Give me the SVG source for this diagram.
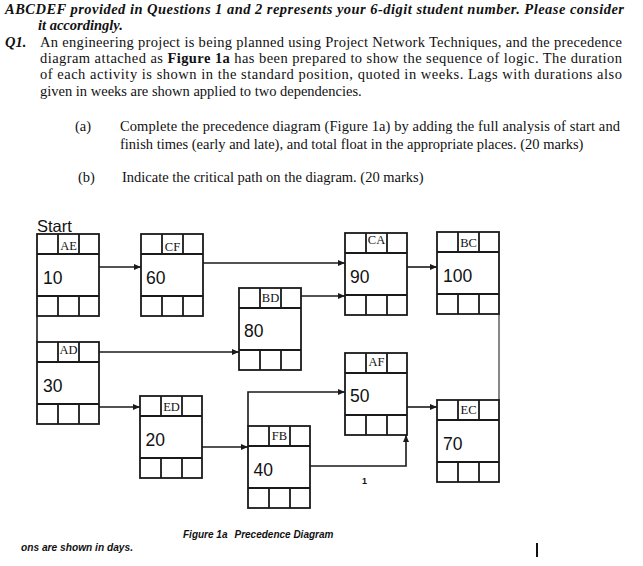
<svg xmlns="http://www.w3.org/2000/svg" width="643" height="566" viewBox="0 0 643 566">
<style>
.t{font-family:"Liberation Serif","Times New Roman",serif;font-size:14.5px;fill:#111}
.bi{font-weight:bold;font-style:italic}
.b{font-weight:bold}
.num{font-family:"Liberation Sans",Arial,sans-serif;font-size:17.5px;fill:#111}
.lab{font-family:"Liberation Serif","Times New Roman",serif;font-size:12.5px;fill:#111;text-anchor:middle}
.cap{font-family:"Liberation Sans",Arial,sans-serif;font-size:10px;font-weight:bold;font-style:italic;fill:#111}
.box{fill:#fff;stroke:#1a1a1a;stroke-width:1.8}
.cell{stroke:#1a1a1a;stroke-width:1.8;fill:none}
.con{stroke:#1a1a1a;stroke-width:1.6;fill:none}
</style>
<defs>
<marker id="ah" markerUnits="userSpaceOnUse" markerWidth="7" markerHeight="6" refX="7" refY="3" orient="auto">
<path d="M0,0 L7,3 L0,6 z" fill="#1a1a1a"/>
</marker>
<g id="nd">
<rect class="box" x="0" y="0" width="62" height="82"/>
<path class="cell" d="M0,20 H62 M0,62 H62 M21,0 V20 M42,0 V20 M21,62 V82 M42,62 V82"/>
</g>
</defs>
<rect width="643" height="566" fill="#fff"/>

<g id="text">
<text class="t bi" x="5" y="14" textLength="619" lengthAdjust="spacing">ABCDEF provided in Questions 1 and 2 represents your 6-digit student number. Please consider</text>
<text class="t bi" x="38" y="30">it accordingly.</text>
<text class="t bi" x="5" y="47">Q1.</text>
<text class="t" x="40" y="47" textLength="582" lengthAdjust="spacing">An engineering project is being planned using Project Network Techniques, and the precedence</text>
<text class="t" x="40" y="63" textLength="582" lengthAdjust="spacing">diagram attached as <tspan class="b">Figure 1a</tspan> has been prepared to show the sequence of logic.  The duration</text>
<text class="t" x="40" y="79" textLength="582" lengthAdjust="spacing">of each activity is shown in the standard position, quoted in weeks.  Lags with durations also</text>
<text class="t" x="40" y="96">given in weeks are shown applied to two dependencies.</text>
<text class="t" x="75" y="131">(a)</text>
<text class="t" x="120" y="131" textLength="500" lengthAdjust="spacing">Complete the precedence diagram (Figure 1a) by adding the full analysis of start and</text>
<text class="t" x="120" y="149">finish times (early and late), and total float in the appropriate places. (20 marks)</text>
<text class="t" x="78" y="182">(b)</text>
<text class="t" x="122" y="182">Indicate the critical path on the diagram. (20 marks)</text>
<text x="37" y="232" font-family="Liberation Sans, Arial, sans-serif" font-size="16.5" fill="#111">Start</text>
<text class="cap" x="183" y="538" font-size="10.3">Figure 1a<tspan dx="7">Precedence Diagram</tspan></text>
<text class="cap" x="21" y="551" textLength="112" lengthAdjust="spacingAndGlyphs">ons are shown in days.</text>
<text x="362" y="484" font-family="Liberation Sans, Arial, sans-serif" font-size="9" font-weight="bold" fill="#111">1</text>
<line x1="537" y1="543" x2="537" y2="557" stroke="#111" stroke-width="2"/>
</g>

<g id="connectors">
<line class="con" x1="37" y1="316" x2="37" y2="342"/>
<line class="con" x1="99" y1="267" x2="141" y2="267" marker-end="url(#ah)"/>
<line class="con" x1="202" y1="263" x2="345" y2="263" marker-end="url(#ah)"/>
<line class="con" x1="407" y1="267" x2="437" y2="267" marker-end="url(#ah)"/>
<line class="con" x1="301" y1="296" x2="345" y2="296" marker-end="url(#ah)"/>
<line class="con" x1="99" y1="352" x2="239" y2="352" marker-end="url(#ah)"/>
<line class="con" x1="99" y1="407" x2="140" y2="407" marker-end="url(#ah)"/>
<line class="con" x1="202" y1="447" x2="248" y2="447" marker-end="url(#ah)"/>
<polyline class="con" points="248,426 248,392 345,392" marker-end="url(#ah)"/>
<polyline class="con" points="310,466 406,466 406,435" marker-end="url(#ah)"/>
<line class="con" x1="407" y1="407" x2="437" y2="407" marker-end="url(#ah)"/>
<line x1="499" y1="314" x2="499" y2="400" stroke="#6a6a6a" stroke-width="1.6"/>
</g>

<g id="AE"><use href="#nd" x="37" y="234"/><text class="lab" x="68.5" y="250">AE</text><text class="num" x="43" y="284">10</text></g>
<g id="CF"><use href="#nd" x="141" y="234"/><text class="lab" x="172.5" y="251" font-size="13.5">CF</text><text class="num" x="146" y="284">60</text></g>
<g id="CA"><use href="#nd" x="345" y="233"/><text class="lab" x="376.5" y="244" font-size="11.5">CA</text><text class="num" x="350" y="283">90</text></g>
<g id="BC"><use href="#nd" x="437" y="232"/><text class="lab" x="468.5" y="247">BC</text><text class="num" x="443" y="282">100</text></g>
<g id="BD"><use href="#nd" x="239" y="288"/><text class="lab" x="270.5" y="302">BD</text><text class="num" x="244" y="337">80</text></g>
<g id="AD"><use href="#nd" x="37" y="342"/><text class="lab" x="68.5" y="354">AD</text><text class="num" x="43" y="392">30</text></g>
<g id="ED"><use href="#nd" x="140" y="396"/><text class="lab" x="171.5" y="411">ED</text><text class="num" x="145.5" y="446">20</text></g>
<g id="FB"><use href="#nd" x="248" y="426"/><text class="lab" x="279.5" y="440" font-size="11.5">FB</text><text class="num" x="253.5" y="476">40</text></g>
<g id="AF"><use href="#nd" x="345" y="353"/><text class="lab" x="376.5" y="366" font-size="11.5">AF</text><text class="num" x="350" y="402">50</text></g>
<g id="EC"><use href="#nd" x="437" y="400"/><text class="lab" x="468.5" y="414">EC</text><text class="num" x="443" y="450">70</text></g>
</svg>
